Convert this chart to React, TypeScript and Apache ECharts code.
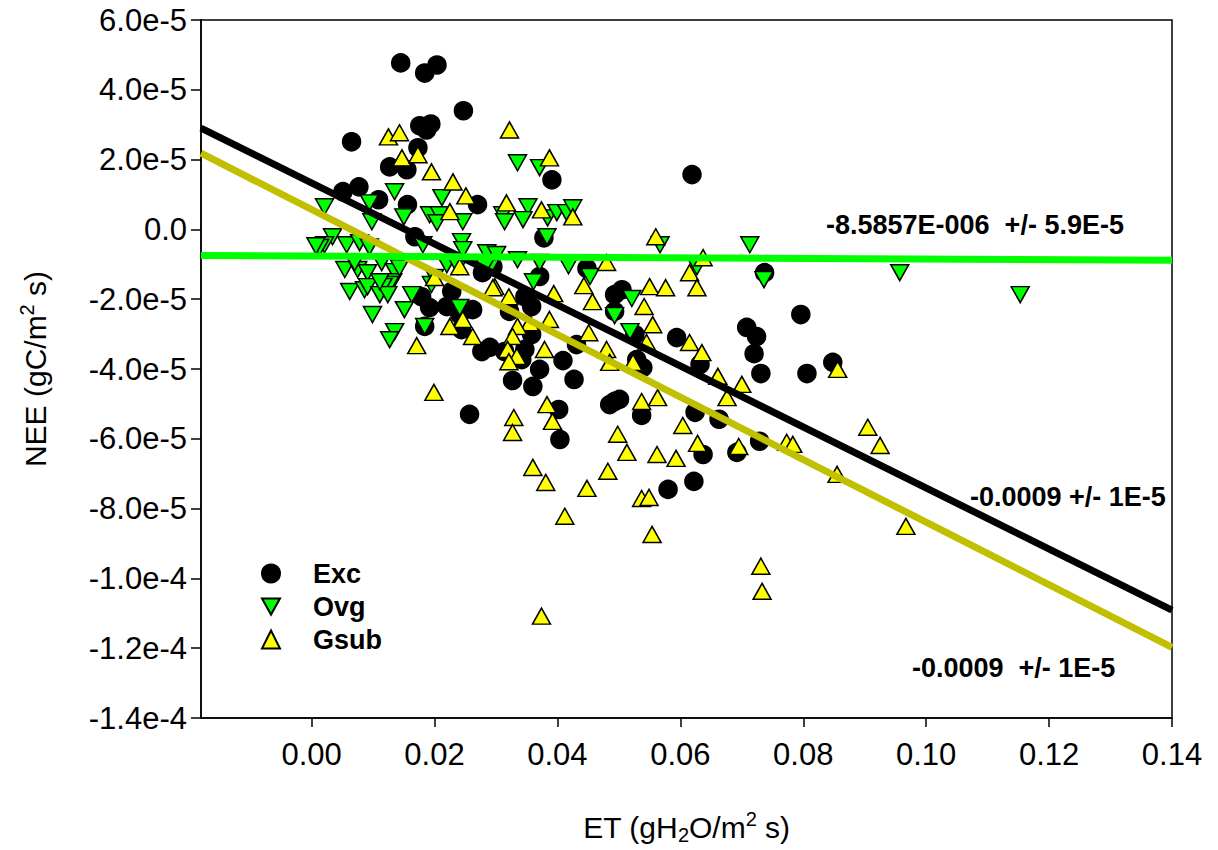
import React, { useEffect, useRef } from "react";
import * as echarts from "echarts";

const FONT = "'Liberation Sans', Arial, Helvetica, sans-serif";

// axis ranges / ticks
const xMin = -0.018;
const xMax = 0.14;
const xTicks = [0, 0.02, 0.04, 0.06, 0.08, 0.1, 0.12, 0.14];
const yMin = -1.4e-4;
const yMax = 6e-5;
const yStep = 2e-5;

// series names
const seriesNames = ["Exc", "Ovg", "Gsub"];

// Exc: [ET, NEE]
const exc = [
  [0.0145, 4.77e-5], [0.0184, 4.48e-5], [0.0204, 4.71e-5], [0.0247, 3.4e-5],
  [0.0065, 2.51e-5], [0.0176, 2.97e-5], [0.0194, 3.02e-5], [0.0187, 2.85e-5],
  [0.0173, 2.34e-5], [0.0127, 1.79e-5], [0.0155, 1.71e-5], [0.0051, 1.08e-5],
  [0.0077, 1.22e-5], [0.0109, 0.85e-5], [0.0156, 0.71e-5], [0.027, 0.71e-5],
  [0.0391, 1.42e-5], [0.0619, 1.57e-5], [0.0168, -0.21e-5], [0.0378, -0.24e-5],
  [0.0295, -1.07e-5], [0.0448, -1.12e-5], [0.0371, -1.35e-5], [0.0505, -1.73e-5],
  [0.0493, -1.87e-5], [0.0493, -2.35e-5], [0.0526, -3.01e-5], [0.0594, -3.1e-5],
  [0.0632, -3.87e-5], [0.0322, -2.35e-5], [0.0358, -3.01e-5], [0.0347, -3.44e-5],
  [0.0342, -3.73e-5], [0.0431, -3.3e-5], [0.0409, -3.76e-5], [0.0529, -3.73e-5],
  [0.0539, -3.96e-5], [0.0371, -4.01e-5], [0.0327, -4.33e-5], [0.036, -4.5e-5],
  [0.0427, -4.3e-5], [0.0402, -5.16e-5], [0.0404, -6.02e-5], [0.0493, -4.93e-5],
  [0.0501, -4.87e-5], [0.0485, -5.02e-5], [0.0537, -5.33e-5], [0.0624, -5.24e-5],
  [0.0663, -5.44e-5], [0.0637, -6.45e-5], [0.0692, -6.39e-5], [0.0622, -7.22e-5],
  [0.058, -7.45e-5], [0.0737, -1.24e-5], [0.0796, -2.44e-5], [0.0708, -2.81e-5],
  [0.0724, -3.07e-5], [0.072, -3.56e-5], [0.0731, -4.13e-5], [0.0806, -4.13e-5],
  [0.0848, -3.81e-5], [0.0729, -6.07e-5], [0.0257, -5.3e-5], [0.0278, -1.24e-5],
  [0.0179, -1.93e-5], [0.0192, -2.24e-5], [0.0228, -1.78e-5], [0.022, -2.21e-5],
  [0.0241, -2.44e-5], [0.0262, -2.3e-5], [0.0184, -2.78e-5], [0.0244, -2.87e-5],
  [0.029, -3.38e-5], [0.0277, -3.5e-5], [0.0314, -3.5e-5], [0.0358, -2.21e-5],
  [0.0347, -1.93e-5],
];

// Ovg: [ET, NEE]
const ovg = [
  [0.0135, 1.08e-5], [0.0021, 0.65e-5], [0.0094, 0.76e-5], [0.0212, 0.91e-5],
  [0.015, 0.36e-5], [0.0192, 0.42e-5], [0.0208, 0.42e-5], [0.0246, 0.22e-5],
  [0.0311, 0.42e-5], [0.0098, 0.22e-5], [0.0204, 0.19e-5], [0.0335, 1.91e-5],
  [0.0371, 1.77e-5], [0.0352, 0.65e-5], [0.0344, 0.28e-5], [0.0384, 0.33e-5],
  [0.0399, 0.48e-5], [0.0415, 0.48e-5], [0.0425, 0.62e-5], [0.0383, -0.21e-5],
  [0.0567, -0.44e-5], [0.0713, -0.44e-5], [0.0627, -1.07e-5], [0.0453, -1.35e-5],
  [0.0521, -1.98e-5], [0.0361, -1.5e-5], [0.0335, -0.87e-5], [0.0298, -0.78e-5],
  [0.0418, -1.04e-5], [0.0493, -2.47e-5], [0.0518, -2.93e-5], [0.0736, -1.44e-5],
  [0.0957, -1.24e-5], [0.1153, -1.87e-5], [0.0034, -0.21e-5], [0.0021, -0.44e-5],
  [0.0013, -0.52e-5], [0.0057, -0.44e-5], [0.0078, -0.38e-5], [0.0094, -0.5e-5],
  [0.0181, -0.44e-5], [0.0244, -0.35e-5], [0.0246, -0.58e-5], [0.0285, -0.67e-5],
  [0.0301, -0.72e-5], [0.0054, -1.15e-5], [0.0075, -1.15e-5], [0.0091, -1.24e-5],
  [0.0114, -0.95e-5], [0.0135, -1.21e-5], [0.0132, -1.5e-5], [0.0127, -1.58e-5],
  [0.0116, -1.64e-5], [0.0062, -1.78e-5], [0.0086, -1.73e-5], [0.0091, -1.64e-5],
  [0.0111, -1.87e-5], [0.0124, -1.87e-5], [0.0163, -1.87e-5], [0.0111, -1.5e-5],
  [0.007, -0.95e-5], [0.022, -1.01e-5], [0.02, -1.38e-5], [0.0195, -1.58e-5],
  [0.029, -1.1e-5], [0.0241, -2.24e-5], [0.0151, -2.3e-5], [0.0099, -2.44e-5],
  [0.0184, -2.78e-5], [0.0135, -2.93e-5], [0.0127, -3.16e-5], [0.0314, 0.22e-5],
  [0.0238, -1.07e-5], [0.0282, -1.07e-5], [0.0371, -0.95e-5], [0.0143, -1.1e-5],
  [0.0007, -0.47e-5],
];

// Gsub: [ET, NEE]
const gsub = [
  [0.0125, 2.65e-5], [0.0143, 2.77e-5], [0.0147, 2.05e-5], [0.0173, 2.14e-5],
  [0.0195, 1.65e-5], [0.023, 1.36e-5], [0.0251, 0.96e-5], [0.0322, 2.85e-5],
  [0.0317, 0.76e-5], [0.0225, 0.51e-5], [0.0387, 2.05e-5], [0.0374, 0.56e-5],
  [0.0425, 0.36e-5], [0.056, -0.21e-5], [0.0637, -0.81e-5], [0.0615, -1.24e-5],
  [0.0627, -1.67e-5], [0.055, -1.64e-5], [0.0576, -1.67e-5], [0.0443, -1.61e-5],
  [0.048, -0.95e-5], [0.0394, -1.84e-5], [0.0321, -1.93e-5], [0.0298, -1.64e-5],
  [0.0457, -2.07e-5], [0.0541, -2.21e-5], [0.0555, -2.73e-5], [0.0545, -3.24e-5],
  [0.0615, -3.24e-5], [0.0635, -3.53e-5], [0.0661, -4.21e-5], [0.07, -4.44e-5],
  [0.0676, -4.82e-5], [0.0387, -2.58e-5], [0.0355, -2.67e-5], [0.0335, -2.78e-5],
  [0.0327, -3.07e-5], [0.0319, -3.44e-5], [0.0334, -3.64e-5], [0.0321, -3.79e-5],
  [0.0379, -3.44e-5], [0.0451, -2.96e-5], [0.048, -3.44e-5], [0.0485, -3.81e-5],
  [0.0523, -3.81e-5], [0.0383, -5.02e-5], [0.0329, -5.39e-5], [0.0392, -5.5e-5],
  [0.0327, -5.82e-5], [0.0537, -4.93e-5], [0.0563, -4.82e-5], [0.0604, -5.62e-5],
  [0.0498, -5.87e-5], [0.0628, -6.13e-5], [0.0695, -6.22e-5], [0.0513, -6.39e-5],
  [0.0562, -6.45e-5], [0.0593, -6.56e-5], [0.036, -6.82e-5], [0.0482, -6.93e-5],
  [0.0381, -7.25e-5], [0.0448, -7.42e-5], [0.0537, -7.71e-5], [0.0549, -7.68e-5],
  [0.0412, -8.22e-5], [0.0554, -8.74e-5], [0.0731, -9.65e-5], [0.0733, -1.037e-4],
  [0.0374, -1.108e-4], [0.0856, -4.01e-5], [0.0905, -5.67e-5], [0.0925, -6.19e-5],
  [0.0773, -6.1e-5], [0.0783, -6.16e-5], [0.0855, -7.02e-5], [0.0967, -8.51e-5],
  [0.0199, -4.67e-5], [0.0241, -1.07e-5], [0.02, -1.38e-5], [0.0295, -1.67e-5],
  [0.0246, -2.58e-5], [0.0225, -2.78e-5], [0.0262, -3.07e-5], [0.0171, -3.33e-5],
];

// linear regressions: [slope, intercept]
const excFit = [-8.74e-4, 1.33e-5];
const ovgFit = [-8.5857e-6, -0.766e-5];
const gsubFit = [-8.96e-4, 0.57e-5];

// regression annotation texts
const fitLabels = ["-8.5857E-006  +/- 5.9E-5", "-0.0009 +/- 1E-5", "-0.0009  +/- 1E-5"];

const fitLine = (fit: number[]) => [
  [xMin, fit[1] + fit[0] * xMin],
  [xMax, fit[1] + fit[0] * xMax],
];

const INV_TRI = "path://M0,0L20,0L10,18Z";

export default function App() {
  const ref = useRef<HTMLDivElement>(null);
  useEffect(() => {
    if (!ref.current) return;
    const chart = echarts.init(ref.current, null, { renderer: "svg" });
    const markerBorder = { borderColor: "#000", borderWidth: 1.5, opacity: 1 };
    const option: any = {
      animation: false,
      backgroundColor: "#fff",
      textStyle: { fontFamily: FONT },
      grid: {
        left: 201,
        top: 20,
        right: 46,
        bottom: 131,
        show: true,
        borderColor: "#000",
        borderWidth: 1.5,
        backgroundColor: "transparent",
      },
      legend: {
        data: seriesNames,
        orient: "vertical",
        left: 256,
        top: 555,
        itemWidth: 18,
        itemHeight: 18,
        itemGap: 6,
        textStyle: {
          fontFamily: FONT,
          fontSize: 27,
          fontWeight: "bold",
          color: "#000",
          padding: [0, 0, 0, 28],
        },
      },
      xAxis: {
        type: "value",
        min: xMin,
        max: xMax,
        splitLine: { show: false },
        axisLine: { show: true, onZero: false, lineStyle: { color: "#000", width: 1.5 } },
        axisTick: {
          show: true,
          length: 9,
          inside: false,
          customValues: xTicks,
          lineStyle: { color: "#000", width: 1.5 },
        },
        axisLabel: {
          customValues: xTicks,
          margin: 21,
          fontSize: 31,
          color: "#000",
          fontFamily: FONT,
          formatter: (v: number) => v.toFixed(2),
        },
        name: "{t|ET (gH}{s|2}{t|O/m}{p|2}{t| s)}",
        nameLocation: "middle",
        nameGap: 91,
        nameTextStyle: {
          rich: {
            t: { fontSize: 30, fontFamily: FONT, color: "#000", lineHeight: 36, verticalAlign: "middle" },
            s: { fontSize: 20, fontFamily: FONT, color: "#000", lineHeight: 20, verticalAlign: "bottom" },
            p: { fontSize: 20, fontFamily: FONT, color: "#000", lineHeight: 20, verticalAlign: "top" },
          },
        },
      },
      yAxis: {
        type: "value",
        min: yMin,
        max: yMax,
        interval: yStep,
        splitLine: { show: false },
        axisLine: { show: true, onZero: false, lineStyle: { color: "#000", width: 1.5 } },
        axisTick: { show: true, length: 10, lineStyle: { color: "#000", width: 1.5 } },
        axisLabel: {
          margin: 14,
          fontSize: 31,
          color: "#000",
          fontFamily: FONT,
          formatter: (v: number) => (Math.abs(v) < 1e-12 ? "0.0" : v.toExponential(1)),
        },
        name: "{t|NEE (gC/m}{p|2}{t| s)}",
        nameLocation: "middle",
        nameGap: 148,
        nameTextStyle: {
          rich: {
            t: { fontSize: 30, fontFamily: FONT, color: "#000", lineHeight: 36, verticalAlign: "middle" },
            p: { fontSize: 20, fontFamily: FONT, color: "#000", lineHeight: 20, verticalAlign: "top" },
          },
        },
      },
      series: [
        {
          name: "Exc",
          type: "scatter",
          data: exc,
          symbol: "circle",
          symbolSize: 18,
          itemStyle: { color: "#000", ...markerBorder },
        },
        {
          name: "Ovg",
          type: "scatter",
          data: ovg,
          symbol: INV_TRI,
          symbolSize: [18, 16],
          itemStyle: { color: "#00FF00", ...markerBorder },
        },
        {
          name: "Gsub",
          type: "scatter",
          data: gsub,
          symbol: "triangle",
          symbolSize: [18, 16],
          itemStyle: { color: "#FFFF00", ...markerBorder },
        },
        {
          name: "Gsub fit",
          type: "line",
          data: fitLine(gsubFit),
          symbol: "none",
          lineStyle: { color: "#C0C000", width: 7 },
        },
        {
          name: "Exc fit",
          type: "line",
          data: fitLine(excFit),
          symbol: "none",
          lineStyle: { color: "#000", width: 7 },
        },
        {
          name: "Ovg fit",
          type: "line",
          data: fitLine(ovgFit),
          symbol: "none",
          lineStyle: { color: "#00FF00", width: 7 },
        },
      ],
      graphic: [
        {
          type: "text",
          left: 826,
          top: 211,
          style: { text: fitLabels[0], font: `bold 27px ${FONT}`, fill: "#000" },
        },
        {
          type: "text",
          left: 970,
          top: 483,
          style: { text: fitLabels[1], font: `bold 27px ${FONT}`, fill: "#000" },
        },
        {
          type: "text",
          left: 912,
          top: 654,
          style: { text: fitLabels[2], font: `bold 27px ${FONT}`, fill: "#000" },
        },
      ],
    };
    chart.setOption(option);
    return () => chart.dispose();
  }, []);
  return (
    <div
      ref={ref}
      style={{ position: "fixed", left: 0, top: 0, width: 1218, height: 850, background: "#fff" }}
    />
  );
}
